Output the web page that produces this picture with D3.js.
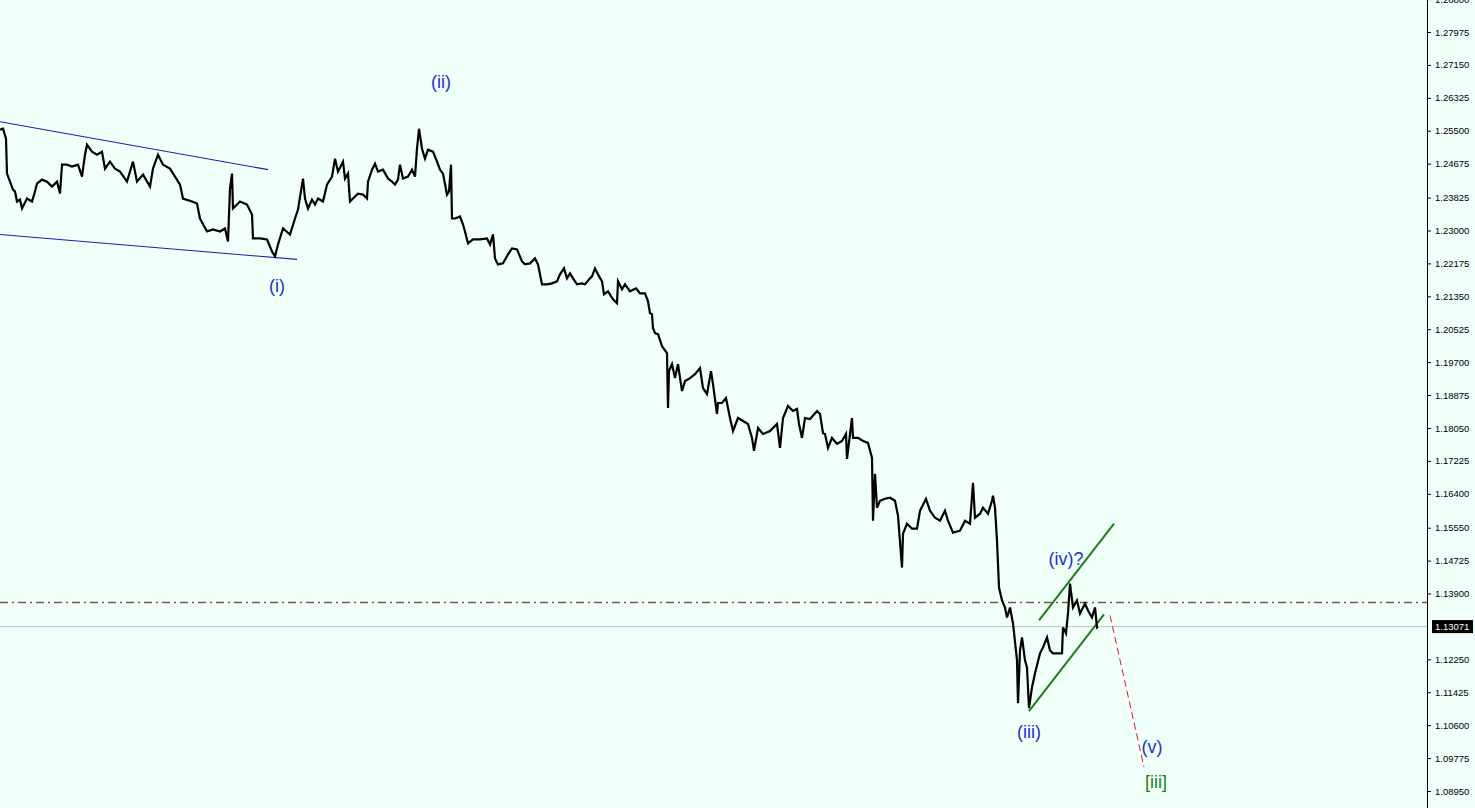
<!DOCTYPE html>
<html>
<head>
<meta charset="utf-8">
<script src="https://cdn.jsdelivr.net/npm/d3@7"></script>
<style>
  html, body { margin: 0; padding: 0; background: #f0fff8; }
  svg { display: block; }
</style>
</head>
<body>
<svg id="chart" width="1475" height="808"></svg>
<script>
// ---- DATA ----
// [bar number, price]
const priceSeries = [
[0,1.25525],[3,1.2555],[6,1.253],[7,1.24425],[10,1.24225],[13,1.24025],[15,1.23975],[17,1.23725],[20,1.23775],[22,1.2355],[27,1.238],[32,1.23725],[35,1.23975],[37,1.24175],[42,1.24275],[47,1.24225],[52,1.241],[57,1.24225],[60,1.23925],[62,1.2465],[67,1.2465],[72,1.246],[78,1.2465],[82,1.2435],[85,1.249],[87,1.2515],[92,1.24975],[97,1.249],[102,1.24975],[105,1.2455],[110,1.24725],[115,1.2455],[120,1.24475],[127,1.24225],[133,1.24725],[137,1.24225],[143,1.244],[150,1.241],[153,1.2455],[158,1.249],[163,1.2465],[170,1.2455],[175,1.2435],[180,1.2415],[183,1.238],[192,1.23725],[197,1.23675],[200,1.233],[207,1.22975],[213,1.23025],[220,1.22975],[225,1.2305],[228,1.22725],[230,1.2405],[232,1.24425],[233,1.2355],[240,1.23725],[247,1.2365],[252,1.234],[253,1.228],[260,1.228],[267,1.22775],[272,1.22475],[275,1.2235],[278,1.2265],[283,1.2305],[290,1.229],[295,1.233],[298,1.23525],[303,1.243],[305,1.238],[308,1.2355],[312,1.23775],[315,1.2365],[318,1.238],[323,1.23725],[327,1.2415],[332,1.2435],[335,1.248],[338,1.24475],[343,1.24725],[345,1.243],[348,1.24425],[350,1.23725],[353,1.238],[358,1.23925],[363,1.239],[367,1.238],[368,1.24225],[372,1.24525],[375,1.24675],[378,1.24475],[383,1.24525],[388,1.243],[392,1.24225],[395,1.2415],[398,1.24275],[400,1.2465],[403,1.243],[408,1.2435],[412,1.24525],[415,1.2435],[417,1.2505],[419,1.2555],[422,1.2505],[425,1.248],[428,1.25025],[433,1.24975],[437,1.24725],[440,1.24525],[443,1.24425],[447,1.239],[449,1.23975],[451,1.2465],[452,1.233],[455,1.233],[460,1.2335],[463,1.2315],[465,1.22975],[468,1.22675],[473,1.22775],[480,1.22775],[487,1.228],[490,1.2265],[493,1.229],[495,1.223],[498,1.2215],[503,1.22175],[508,1.224],[512,1.2255],[517,1.22525],[522,1.22225],[525,1.2215],[530,1.22175],[535,1.223],[538,1.2215],[542,1.2165],[547,1.2165],[552,1.21675],[557,1.21725],[560,1.219],[564,1.2205],[567,1.218],[570,1.21925],[573,1.218],[577,1.2165],[582,1.21675],[585,1.2165],[590,1.218],[592,1.2185],[595,1.2205],[598,1.219],[602,1.21725],[604,1.214],[608,1.21475],[613,1.21275],[617,1.21175],[618,1.21725],[622,1.21525],[625,1.2165],[630,1.21475],[636,1.2155],[640,1.21425],[645,1.21425],[648,1.21225],[650,1.20925],[652,1.209],[653,1.2055],[655,1.20425],[658,1.204],[662,1.201],[667,1.19925],[668,1.1855],[669,1.19475],[672,1.1965],[675,1.193],[678,1.1965],[682,1.18975],[685,1.19225],[690,1.193],[695,1.194],[700,1.1955],[703,1.1905],[707,1.189],[711,1.19475],[713,1.1915],[717,1.184],[718,1.18675],[722,1.18675],[726,1.188],[730,1.183],[733,1.17975],[738,1.183],[743,1.18225],[748,1.1815],[752,1.178],[754,1.17475],[758,1.1805],[763,1.179],[770,1.17975],[777,1.1815],[780,1.1755],[783,1.183],[788,1.186],[793,1.18475],[797,1.18525],[799,1.1815],[802,1.178],[805,1.183],[810,1.18275],[817,1.18475],[820,1.184],[823,1.17925],[825,1.179],[828,1.1755],[832,1.178],[837,1.1765],[842,1.17725],[846,1.179],[847,1.17275],[852,1.183],[853,1.178],[858,1.178],[863,1.17725],[868,1.17675],[872,1.173],[873,1.15725],[875,1.169],[877,1.1605],[880,1.16225],[885,1.16275],[890,1.163],[895,1.16225],[898,1.1585],[902,1.1455],[903,1.154],[907,1.1565],[912,1.15525],[917,1.15525],[920,1.15975],[926,1.16275],[930,1.15975],[935,1.158],[940,1.15725],[945,1.15975],[948,1.15725],[953,1.15425],[960,1.15475],[965,1.15725],[970,1.1565],[973,1.16675],[975,1.158],[980,1.159],[983,1.1605],[988,1.159],[992,1.16225],[993,1.1635],[995,1.1605],[997,1.15225],[999,1.1405],[1002,1.13725],[1005,1.1355],[1007,1.133],[1010,1.1355],[1013,1.1315],[1017,1.12225],[1018,1.1115],[1020,1.12475],[1022,1.128],[1025,1.12225],[1027,1.1205],[1029,1.11025],[1032,1.1155],[1035,1.119],[1040,1.124],[1043,1.1255],[1047,1.128],[1050,1.12475],[1053,1.124],[1058,1.124],[1062,1.124],[1063,1.1305],[1066,1.129],[1068,1.134],[1070,1.1415],[1073,1.1355],[1077,1.13725],[1080,1.134],[1085,1.1365],[1088,1.13475],[1092,1.133],[1095,1.1355],[1097,1.1305],[1098,1.13071]
];

const priceTicks = [1.28800,1.27975,1.27150,1.26325,1.25500,1.24675,1.23825,1.23000,1.22175,1.21350,1.20525,1.19700,1.18875,1.18050,1.17225,1.16400,1.15550,1.14725,1.13900,1.12250,1.11425,1.10600,1.09775,1.08950];

const currentPrice = 1.13071;
const levelPrice = 1.13675;

const channelUpperBlue = [[0,1.25725],[268,1.24525]];
const channelLowerBlue = [[0,1.22900],[297,1.22275]];
const channelUpperGreen = [[1039,1.13225],[1114,1.15650]];
const channelLowerGreen = [[1029,1.10950],[1104,1.13375]];
const projection = [[1110,1.13350],[1144,1.09550]];

const waveLabels = [
  {text:"(i)",   bar:277,  price:1.21600, kind:"minor"},
  {text:"(ii)",  bar:441,  price:1.26725, kind:"minor"},
  {text:"(iii)", bar:1029, price:1.10425, kind:"minor"},
  {text:"(iv)?", bar:1066, price:1.14775, kind:"minor"},
  {text:"(v)",   bar:1152, price:1.10050, kind:"minor"},
  {text:"[iii]", bar:1156, price:1.09175, kind:"major"}
];

// ---- CHART ----
const W = 1475, H = 808, axisX = 1427;
const svg = d3.select("#chart");
svg.append("rect").attr("width", W).attr("height", H).attr("fill", "#f0fff8");

const x = d3.scaleLinear().domain([0, 1427]).range([0, axisX]);
const y = d3.scaleLinear().domain([1.0895, 1.27975]).range([791, 32]);

const line = d3.line().x(d => x(d[0])).y(d => y(d[1]));

// horizontal levels
svg.append("line")
  .attr("x1", 0).attr("x2", axisX)
  .attr("y1", y(currentPrice)).attr("y2", y(currentPrice))
  .attr("stroke", "#c0c0c0").attr("stroke-width", 1);

svg.append("line")
  .attr("x1", 0).attr("x2", axisX)
  .attr("y1", y(levelPrice)).attr("y2", y(levelPrice))
  .attr("stroke", "#80582a").attr("stroke-width", 1.7)
  .attr("stroke-dasharray", "8,4,2,4");

// channels
[channelUpperBlue, channelLowerBlue].forEach(c => {
  svg.append("path").attr("d", line(c)).attr("fill", "none")
    .attr("stroke", "#1c1cb4").attr("stroke-width", 1.1);
});
[channelUpperGreen, channelLowerGreen].forEach(c => {
  svg.append("path").attr("d", line(c)).attr("fill", "none")
    .attr("stroke", "#1e7d1e").attr("stroke-width", 2);
});
svg.append("path").attr("d", line(projection)).attr("fill", "none")
  .attr("stroke", "#dc143c").attr("stroke-width", 1)
  .attr("stroke-dasharray", "7,4");

// price line
svg.append("path").datum(priceSeries)
  .attr("d", line).attr("fill", "none")
  .attr("stroke", "#000").attr("stroke-width", 2.2)
  .attr("stroke-linejoin", "miter");

// wave labels
svg.selectAll("text.wave").data(waveLabels).enter().append("text")
  .attr("class", "wave")
  .attr("x", d => x(d.bar)).attr("y", d => y(d.price))
  .attr("text-anchor", "middle").attr("dominant-baseline", "central")
  .attr("font-family", "'Liberation Sans', Arial, sans-serif")
  .attr("font-size", 18)
  .attr("fill", d => d.kind === "major" ? "#1e7d1e" : "#1f2fd0")
  .text(d => d.text);

// right axis
const axisG = svg.append("g").attr("transform", `translate(${axisX},0)`);
axisG.append("rect").attr("x", 0).attr("y", 0).attr("width", W - axisX).attr("height", H).attr("fill", "#f0fff8");
const axis = d3.axisRight(y).tickValues(priceTicks).tickFormat(d3.format(".5f")).tickSize(4).tickPadding(4);
axisG.call(axis);
axisG.select(".domain").attr("d", `M0.5,0V${H}`).attr("stroke", "#000");
axisG.selectAll(".tick line").attr("stroke", "#000");
axisG.selectAll(".tick text")
  .attr("font-family", "'Liberation Sans', Arial, sans-serif")
  .attr("font-size", 9.5).attr("fill", "#000");

// current price tag
const cp = svg.append("g").attr("transform", `translate(${axisX + 5},${y(currentPrice)})`);
cp.append("rect").attr("x", 0).attr("y", -6.5).attr("width", 41).attr("height", 13).attr("fill", "#000");
cp.append("text").attr("x", 3).attr("y", 0).attr("dominant-baseline", "central")
  .attr("font-family", "'Liberation Sans', Arial, sans-serif").attr("font-size", 9.5)
  .attr("fill", "#fff").text(d3.format(".5f")(currentPrice));
</script>
</body>
</html>
